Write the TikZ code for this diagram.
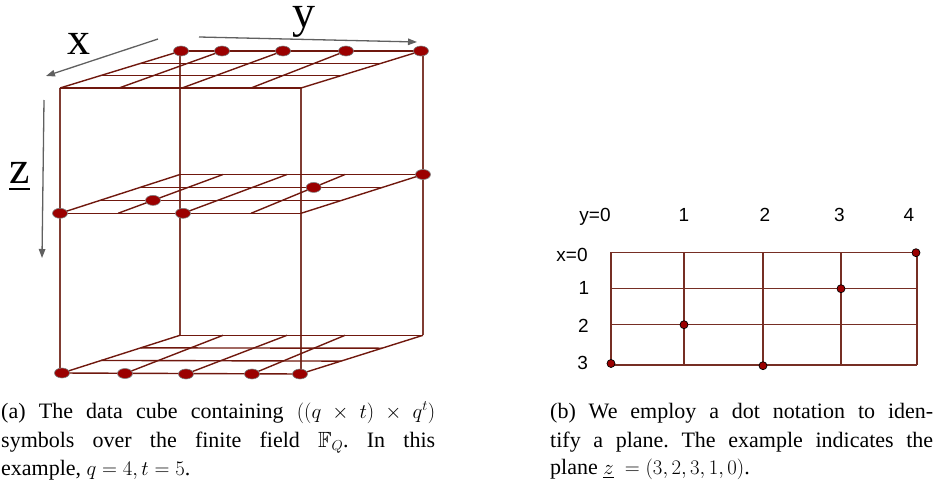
\documentclass[tikz,border=0pt]{standalone}
\usepackage[no-math]{fontspec}
\setmainfont{Liberation Serif}
\newfontfamily\labsans{Liberation Sans}
\usepackage{amssymb}
\usetikzlibrary{calc,arrows.meta,shapes.geometric}
\definecolor{gridcol}{RGB}{112,24,14}
\definecolor{vertcol}{RGB}{128,60,50}
\definecolor{dotred}{RGB}{155,0,0}
\definecolor{arrgray}{RGB}{96,96,96}
\definecolor{rgridcol}{RGB}{118,46,36}
\newcommand\cubeplane[1]{%
  \draw[gridc] (#1B0) -- (#1B4);
  \draw[gridc] (#1F0) -- (#1F4);
  \foreach \i in {0,...,4} {\draw[gridc] (#1B\i) -- (#1F\i);}
  \draw[gridc] ($(#1B0)!1/3!(#1F0)$) -- ($(#1B4)!1/3!(#1F4)$);
  \draw[gridc] ($(#1B0)!2/3!(#1F0)$) -- ($(#1B4)!2/3!(#1F4)$);
}
\frenchspacing
\begin{document}
\begin{tikzpicture}[x=1pt,y=-1pt,
  gridc/.style={draw=gridcol, line width=1.4pt},
  vertc/.style={draw=vertcol, line width=1.7pt},
  cdot/.style={ellipse, fill=dotred, draw=gray, line width=0.6pt, minimum width=15pt, minimum height=10pt, inner sep=0pt},
  rdot/.style={circle, fill=dotred, draw=black, line width=0.7pt, minimum size=8pt, inner sep=0pt},
  rgrid/.style={draw=rgridcol, line width=1.1pt},
  axarrow/.style={draw=arrgray, line width=1.3pt, -{Triangle[length=9pt,width=6.5pt]}},
  biglab/.style={inner sep=0pt, anchor=base, font=\fontsize{46}{48}\selectfont},
  lab/.style={inner sep=0pt, anchor=base, font=\labsans\fontsize{19}{22}\selectfont},
  captxt/.style={inner sep=0pt, anchor=base west, font=\fontsize{22}{26}\selectfont}]
\useasboundingbox (0,0) rectangle (938,485);

% ---- cube: top plane
\coordinate (tB0) at (181,51); \coordinate (tB1) at (222,51); \coordinate (tB2) at (283,51);
\coordinate (tB3) at (346,51); \coordinate (tB4) at (421,51);
\coordinate (tF0) at (60,88); \coordinate (tF1) at (119,88); \coordinate (tF2) at (182,88);
\coordinate (tF3) at (251,88); \coordinate (tF4) at (301,88);
% middle plane
\coordinate (mB0) at (180,174.5); \coordinate (mB1) at (223,174.5); \coordinate (mB2) at (287,174.5);
\coordinate (mB3) at (345,174.5); \coordinate (mB4) at (423,174.5);
\coordinate (mF0) at (60,213.3); \coordinate (mF1) at (118,213.3); \coordinate (mF2) at (183,213.3);
\coordinate (mF3) at (251,213.3); \coordinate (mF4) at (301,213.3);
% bottom plane
\coordinate (bB0) at (180,335.3); \coordinate (bB1) at (223,335.3); \coordinate (bB2) at (287,335.3);
\coordinate (bB3) at (345,335.3); \coordinate (bB4) at (423,335.3);
\coordinate (bF0) at (62,373); \coordinate (bF1) at (125,373.5); \coordinate (bF2) at (186,374);
\coordinate (bF3) at (252,374); \coordinate (bF4) at (300,374);

% vertical edges
\draw[vertc] (60,88) -- (60,372);
\draw[vertc] (180,51) -- (180,335.3);
\draw[vertc] (301,88) -- (301,374);
\draw[vertc] (423,51) -- (423,335.3);

\cubeplane{t}
\cubeplane{m}
\cubeplane{b}

% dots
\foreach \i in {0,...,4} {\node[cdot] (td\i) at (tB\i) {};}
\node[cdot] (md0) at (mF0) {};
\node[cdot] (md1) at ($(mB1)!2/3!(mF1)$) {};
\node[cdot] (md2) at (mF2) {};
\node[cdot] (md3) at ($(mB3)!1/3!(mF3)$) {};
\node[cdot] (md4) at (mB4) {};
\foreach \i in {0,...,4} {\node[cdot] (bd\i) at (bF\i) {};}

% axes
\coordinate (xs) at (158,39); \coordinate (xe) at (46,76);
\coordinate (ys) at (199,37); \coordinate (ye) at (417,42);
\coordinate (zs) at (44,100); \coordinate (ze) at (42,258);
\draw[axarrow] (xs) -- (xe);
\draw[axarrow] (ys) -- (ye);
\draw[axarrow] (zs) -- (ze);
\node[biglab] (xl) at (79,54) {x};
\node[biglab] (yl) at (304,27) {y};
\node[biglab] (zl) at (20,183) {z};
\draw[line width=2.6pt] (9,189) -- (30,189);

% ---- right grid
\foreach \gx in {611,684,763,841,917} {\draw[rgrid] (\gx,252.3) -- (\gx,365);}
\foreach \gy in {252.3,288.7,324.7,365} {\draw[rgrid] (611,\gy) -- (917,\gy);}
\node[rdot] (r4) at (916,252.7) {};
\node[rdot] (r3) at (841,288.7) {};
\node[rdot] (r1) at (684,324.7) {};
\node[rdot] (r0) at (611,363.5) {};
\node[rdot] (r2) at (763,365.7) {};

\node[lab] (ly0) at (595,221.7) {y=0};
\node[lab] (ly1) at (684,221.7) {1};
\node[lab] (ly2) at (765,221.7) {2};
\node[lab] (ly3) at (839.5,221.7) {3};
\node[lab] (ly4) at (909,221.7) {4};
\node[lab] (lx0) at (572,261) {x=0};
\node[lab] (lx1) at (584,294.3) {1};
\node[lab] (lx2) at (583.5,332.7) {2};
\node[lab] (lx3) at (582.7,369) {3};

% ---- captions
\node[captxt] (ca1) at (1,418) {\makebox[434pt][s]{(a) The data cube containing $((q\times t)\times q^t)$}};
\node[captxt] (ca2) at (1,447) {\makebox[434pt][s]{symbols over the finite field \mbox{$\mathbb{F}_Q$}. In this}};
\node[captxt] (ca3) at (1,475) {example, $q=4,t=5$.};
\node[captxt] (cb1) at (550,418) {\makebox[383pt][s]{(b) We employ a dot notation to iden-}};
\node[captxt] (cb2) at (550,447) {\makebox[383pt][s]{tify a plane. The example indicates the}};
\node[captxt] (cb3) at (550,474) {plane $\underline{z}\ =(3,2,3,1,0)$.};
\end{tikzpicture}
\end{document}
